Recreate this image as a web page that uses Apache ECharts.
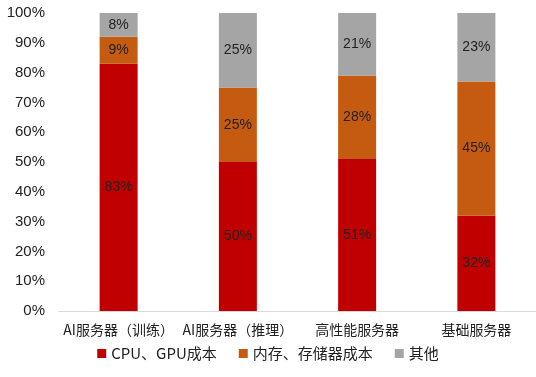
<!DOCTYPE html>
<html><head><meta charset="utf-8">
<script src="https://cdn.jsdelivr.net/npm/echarts@6/dist/echarts.min.js"></script>
<style>html,body{margin:0;padding:0;background:#fff}#c{width:536px;height:377px}</style>
</head><body><div id="c"></div>
<script>
const categories = ['AI服务器（训练）', 'AI服务器（推理）', '高性能服务器', '基础服务器'];
const cpuGpu = [83, 50, 51, 32];
const memStorage = [9, 25, 28, 45];
const others = [8, 25, 21, 23];
const seriesNames = ['CPU、GPU成本', '内存、存储器成本', '其他'];
const yTicks = [0, 10, 20, 30, 40, 50, 60, 70, 80, 90, 100];

const font = '"Noto Sans CJK SC", "Noto Sans", sans-serif';
const narrow = '"Liberation Sans Narrow", "Arial Narrow", "Liberation Sans", sans-serif';
const colors = ['#C00000', '#C55A11', '#A5A5A5'];
const lbl = {show: true, position: 'inside', color: '#222', fontSize: 14, fontFamily: narrow, formatter: p => p.value + '%'};

const chart = echarts.init(document.getElementById('c'), null, {renderer: 'canvas'});
chart.setOption({
  animation: false,
  color: colors,
  grid: {left: 59, right: 0, top: 13, bottom: 66},
  legend: {
    bottom: 11, left: 'center', itemWidth: 9, itemHeight: 9, itemGap: 22,
    icon: 'rect',
    textStyle: {fontSize: 15, color: '#222', fontFamily: font},
    data: seriesNames
  },
  xAxis: {
    type: 'category', data: categories,
    axisLine: {lineStyle: {color: '#d9d9d9'}},
    axisTick: {show: false},
    axisLabel: {fontSize: 14, color: '#222', fontFamily: font, margin: 12, interval: 0}
  },
  yAxis: {
    type: 'value', min: yTicks[0], max: yTicks[yTicks.length - 1], interval: 10,
    splitLine: {show: false},
    axisLine: {show: false}, axisTick: {show: false},
    axisLabel: {fontSize: 15, color: '#222', fontFamily: narrow, margin: 14, formatter: v => v + '%'}
  },
  series: [
    {name: seriesNames[0], type: 'bar', stack: 's', data: cpuGpu, barWidth: 38, label: lbl},
    {name: seriesNames[1], type: 'bar', stack: 's', data: memStorage, barWidth: 38, label: lbl},
    {name: seriesNames[2], type: 'bar', stack: 's', data: others, barWidth: 38, label: lbl}
  ]
});
</script></body></html>
